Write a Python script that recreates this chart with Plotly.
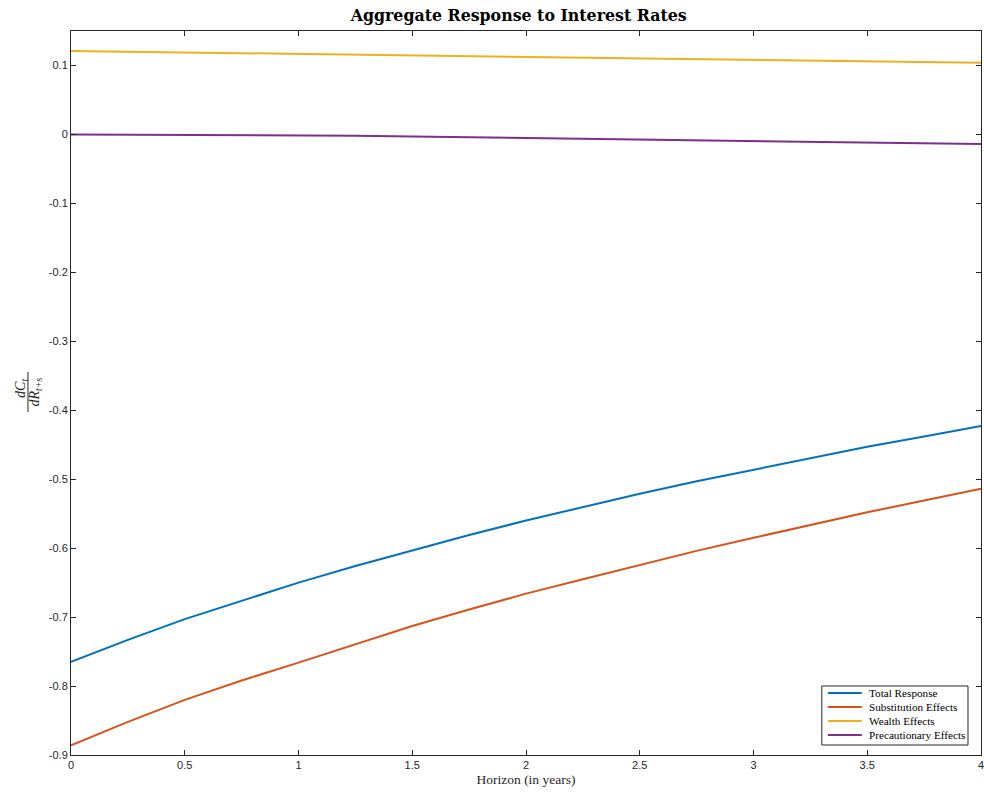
import plotly.graph_objects as go

# Horizon in years (quarterly steps)
horizon = [0, 0.25, 0.5, 0.75, 1, 1.25, 1.5, 1.75, 2, 2.25, 2.5, 2.75, 3, 3.25, 3.5, 3.75, 4]

total_response = [-0.765, -0.733, -0.703, -0.676, -0.650, -0.626, -0.603, -0.581, -0.560,
                  -0.540, -0.521, -0.503, -0.486, -0.469, -0.453, -0.438, -0.423]
substitution = [-0.886, -0.852, -0.820, -0.792, -0.766, -0.739, -0.713, -0.689, -0.666,
                -0.645, -0.624, -0.604, -0.585, -0.566, -0.548, -0.531, -0.514]
wealth = [0.121, 0.120, 0.119, 0.118, 0.117, 0.116, 0.115, 0.114, 0.113,
          0.112, 0.111, 0.110, 0.109, 0.107, 0.106, 0.105, 0.104]
precautionary = [0.0, -0.0002, -0.0005, -0.001, -0.0015, -0.002, -0.003, -0.004, -0.0055,
                 -0.0065, -0.0075, -0.0085, -0.0095, -0.0105, -0.012, -0.013, -0.014]

series_names = ["Total Response", "Substitution Effects", "Wealth Effects", "Precautionary Effects"]
series_colors = ["#0072BD", "#D95319", "#EDB120", "#7E2F8E"]

x_ticks = [0, 0.5, 1, 1.5, 2, 2.5, 3, 3.5, 4]
x_tick_text = ["0", "0.5", "1", "1.5", "2", "2.5", "3", "3.5", "4"]
y_ticks = [-0.9, -0.8, -0.7, -0.6, -0.5, -0.4, -0.3, -0.2, -0.1, 0, 0.1]
y_tick_text = ["-0.9", "-0.8", "-0.7", "-0.6", "-0.5", "-0.4", "-0.3", "-0.2", "-0.1", "0", "0.1"]

SERIF = "Liberation Serif, Times New Roman, serif"
TITLE_SERIF = "DejaVu Serif, serif"
SANS = "Liberation Sans, Arial, Helvetica, sans-serif"
AX = "#262626"

fig = go.Figure()
for name, vals, col in zip(series_names, [total_response, substitution, wealth, precautionary], series_colors):
    fig.add_trace(go.Scatter(x=horizon, y=vals, mode="lines", name=name,
                             line=dict(color=col, width=2), showlegend=False))

axis_common = dict(showgrid=False, zeroline=False, showline=True, linecolor=AX, linewidth=1,
                   ticks="inside", ticklen=5, tickcolor=AX, tickwidth=1, mirror="allticks",
                   automargin=False, ticklabeloverflow="allow",
                   tickfont=dict(family=SANS, size=11, color=AX))

fig.update_layout(
    width=984, height=796,
    margin=dict(l=71, r=3, t=31, b=41),
    paper_bgcolor="white", plot_bgcolor="white",
    title=dict(text="<b>Aggregate Response to Interest Rates</b>", x=0.5271, xanchor="center",
               y=0.987, yanchor="top", font=dict(family=TITLE_SERIF, size=15.8, color="black")),
    xaxis=dict(range=[0, 4], tickvals=x_ticks, ticktext=x_tick_text,
               title=dict(text="Horizon (in years)", font=dict(family=SERIF, size=13.5, color=AX), standoff=4),
               **axis_common),
    yaxis=dict(range=[-0.9, 0.15], tickvals=y_ticks, ticktext=y_tick_text, **axis_common),
    showlegend=False,
)

# Compact boxed legend in the lower-right corner of the axes
fig.add_shape(type="rect", xref="x domain", yref="y domain", x0=0.8251, x1=0.9857, y0=0.0138, y1=0.0953,
              line=dict(color=AX, width=1), fillcolor="white", layer="above")
row_y = [0.0856, 0.0663, 0.0470, 0.0276]
for name, col, yy in zip(series_names, series_colors, row_y):
    fig.add_shape(type="line", xref="x domain", yref="y domain", x0=0.8317, x1=0.869, y0=yy, y1=yy,
                  line=dict(color=col, width=2), layer="above")
    fig.add_annotation(text=name, xref="x domain", yref="y domain", x=0.8746, y=yy,
                       xanchor="left", yanchor="middle", showarrow=False,
                       font=dict(family=SERIF, size=11.2, color="black"))

# Fraction-style y-axis label: dC_t over dR_{t+s}
fig.add_annotation(text="<i>dC<sub>t</sub></i>", xref="paper", yref="paper", x=-0.0539, y=0.507,
                   textangle=-90, showarrow=False, font=dict(family=SERIF, size=14, color=AX),
                   xanchor="center", yanchor="middle")
fig.add_annotation(text="<i>dR<sub>t+s</sub></i>", xref="paper", yref="paper", x=-0.0385, y=0.502,
                   textangle=-90, showarrow=False, font=dict(family=SERIF, size=14, color=AX),
                   xanchor="center", yanchor="middle")
fig.add_shape(type="line", xref="paper", yref="paper", x0=-0.0473, x1=-0.0473, y0=0.4738, y1=0.529,
              line=dict(color=AX, width=1))

fig.write_html("out.html")
